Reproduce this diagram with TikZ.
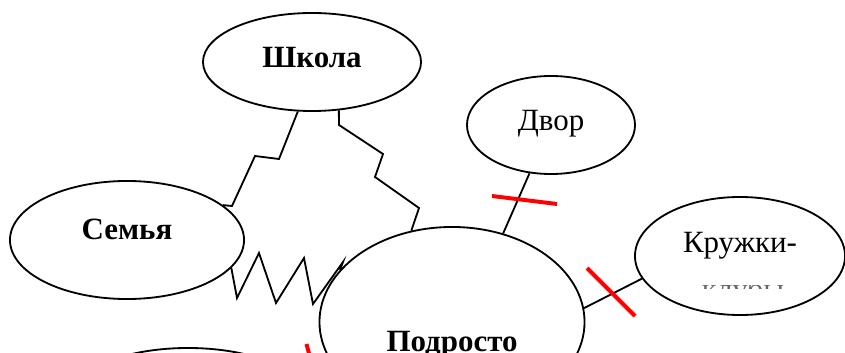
\documentclass[tikz,border=0pt]{standalone}
\usepackage{fontspec}
\setmainfont{Liberation Serif}
\usepackage{tikz}
\usetikzlibrary{shapes.geometric}
\tikzstyle{oval} = [ellipse, draw=black, line width=1.3pt, inner sep=0pt, text height=14.6pt, text depth=0pt, font=\fontsize{22}{26}\selectfont]
\tikzstyle{link} = [line width=1.3pt, line join=miter]
\tikzstyle{cut} = [red, line width=2.8pt]

\begin{document}
\begin{tikzpicture}[x=0.025cm, y=-0.025cm]
                            \useasboundingbox (0,0) rectangle (845,353);
                            \clip (0,0) rectangle (845,353);
                            \node[oval, minimum width=5.45cm, minimum height=2.45cm, text depth=6.4pt] (shkola) at (312,62) {\textbf{Школа}};
                            \node[oval, minimum width=5.85cm, minimum height=2.95cm, text depth=16pt] (semya) at (127,240) {\textbf{Семья}};
                            \node[oval, minimum width=4.2cm, minimum height=2.45cm, text depth=6.7pt] (dvor) at (551,125) {Двор};
                            \node[oval, minimum width=5.25cm, minimum height=2.95cm, text depth=19.9pt] (kruzhki) at (740,256) {Кружки-};
                            \node[oval, minimum width=6.625cm, minimum height=4.75cm, text height=42pt] (teen) at (452,322) {\textbf{Подросто}};
                            \node[oval, minimum width=6cm, minimum height=2.6cm] (other) at (188,400) {};
                            % second line of the clubs label, cut off by its box
                            \begin{scope}
                            \clip (690,285.5) rectangle (800,288.5);
                            \node[anchor=base, inner sep=0pt, font=\fontsize{22}{26}\selectfont, black!60] (kluby) at (743,299) {клубы};
                            \end{scope}
                            \draw [link] (shkola.-106) -- (279,159) -- (255,156) -- (232,206) -- (semya.20);
                            \draw [link] (shkola.-61) -- (339,125) -- (383,154) -- (375,177) -- (419,208) -- (teen.114.5);
                            \draw [link] (semya.-15) -- (237,298) -- (259,253) -- (276,303) -- (304,258) -- (313,304) -- (343,262) -- (teen.155);
                            \draw [link] (dvor.-114) -- (teen.60);
                            \draw [link] (kruzhki.-167.5) -- (teen.6);
                            \draw [cut] (492,196) -- (557,204);
                            \draw [cut] (587,268) -- (635,316);
                            \draw [cut] (306.5,344) -- (316,380);
                        \end{tikzpicture}
\end{document}
